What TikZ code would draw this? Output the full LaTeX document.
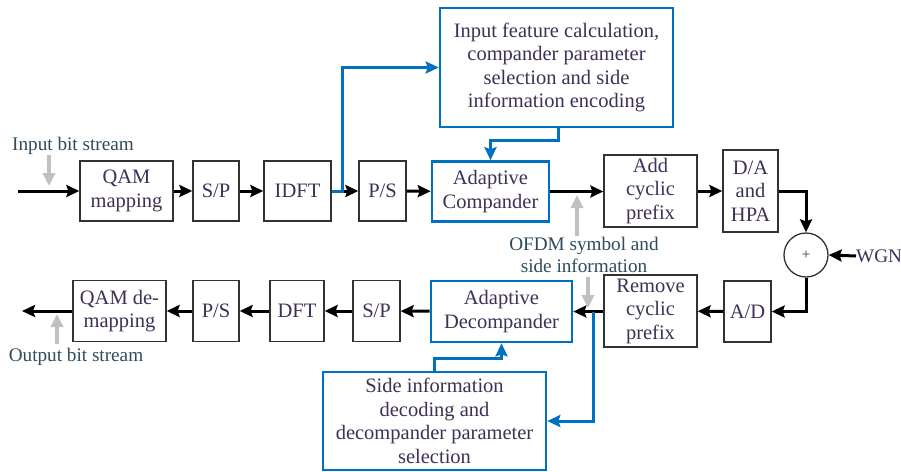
\documentclass[tikz,border=0pt]{standalone}
\usepackage{fontspec}
\setmainfont{Liberation Serif}
\usetikzlibrary{arrows.meta}
\definecolor{bblue}{RGB}{0,112,192}
\definecolor{boxtxt}{RGB}{62,48,86}
\definecolor{lbltxt}{RGB}{46,76,92}
\definecolor{gpoint}{RGB}{192,192,192}
\definecolor{bord}{RGB}{50,50,50}
\tikzset{
  blk/.style={draw=bord, line width=1.3pt, text=boxtxt, align=center, inner sep=0pt,
    font=\fontsize{20.5}{23.5}\selectfont},
  bblk/.style={blk, draw=bblue, line width=2.6pt},
  sig/.style={line width=3pt, -{Stealth[length=13pt,width=12pt,inset=2pt]}},
  bsig/.style={line width=3pt, draw=bblue, -{Stealth[length=13pt,width=12pt,inset=2pt]}},
  gptr/.style={line width=3.4pt, draw=gpoint, -{Triangle[length=13pt,width=12pt]}},
  lbl/.style={text=lbltxt, inner sep=0pt, align=center, font=\fontsize{19.2}{21.5}\selectfont}
}
\begin{document}
\begin{tikzpicture}[x=1pt,y=-1pt]
\useasboundingbox[fill=white] (0,0) rectangle (901,471);
% top row
\node[blk, minimum width=93pt, minimum height=60pt] (qam) at (126.5,191) {QAM\\mapping};
\node[blk, minimum width=46pt, minimum height=60pt] (sp1) at (216,191) {S/P};
\node[blk, minimum width=67pt, minimum height=60pt] (idft) at (297.5,191) {IDFT};
\node[blk, minimum width=47pt, minimum height=60pt] (ps1) at (382.5,191) {P/S};
\node[bblk, minimum width=117pt, minimum height=60pt] (comp) at (490.5,191.5) {Adaptive\\Compander};
\node[blk, minimum width=93pt, minimum height=72pt] (acp) at (650.5,191) {Add\\cyclic\\prefix};
\node[blk, minimum width=55pt, minimum height=82pt] (da) at (750.5,191) {D/A\\and\\HPA};
\node[draw=bord, line width=1.3pt, circle, minimum size=44pt, inner sep=0pt, text=boxtxt,
  font=\fontsize{15}{15}\selectfont] (circ) at (806,255) {+};
\node[lbl, text=boxtxt, anchor=west] (wgn) at (856,256) {WGN};
\node[bblk, minimum width=233pt, minimum height=119pt] (ifc) at (556.5,67.5)
  {Input feature calculation,\\compander parameter\\selection and side\\information encoding};
% bottom row
\node[blk, minimum width=93pt, minimum height=72pt] (rcp) at (650.5,311) {Remove\\cyclic\\prefix};
\node[blk, minimum width=47pt, minimum height=61pt] (ad) at (747.5,311.5) {A/D};
\node[bblk, minimum width=141pt, minimum height=61pt] (dec) at (501.5,311.5) {Adaptive\\Decompander};
\node[blk, minimum width=47pt, minimum height=61pt] (sp2) at (376.5,311) {S/P};
\node[blk, minimum width=54pt, minimum height=61pt] (dft) at (297,311) {DFT};
\node[blk, minimum width=46pt, minimum height=61pt] (ps2) at (216,311) {P/S};
\node[blk, minimum width=93pt, minimum height=61pt] (qdm) at (119.5,311) {QAM de-\\mapping};
\node[bblk, minimum width=223pt, minimum height=98pt] (sid) at (434.5,421)
  {Side information\\decoding and\\decompander parameter\\selection};
% labels
\node[lbl] (lin) at (73,146) {Input bit stream};
\node[lbl] (lout) at (76,357) {Output bit stream};
\node[lbl] (lofdm) at (584,255) {OFDM symbol and\\side information};
% coordinates
\coordinate (inS) at (18,191);
\coordinate (outE) at (22,311);
\coordinate (b1) at (342,191);
\coordinate (b2) at (593,311.5);
\coordinate (g1a) at (49,155); \coordinate (g1b) at (49,186);
\coordinate (g2a) at (577,236); \coordinate (g2b) at (577,195);
\coordinate (g3a) at (588,277); \coordinate (g3b) at (588,308);
\coordinate (g4a) at (57,344); \coordinate (g4b) at (57,314);
% black signal path
\draw[sig] (inS) -- (qam.west);
\draw[sig] (qam) -- (sp1);
\draw[sig] (sp1) -- (idft);
\draw[sig] (b1) -- (ps1.west);
\draw[sig] (ps1) -- (comp);
\draw[sig] (comp.east) -- (acp.west |- comp.east);
\draw[sig] (acp) -- (da);
\draw[sig] (da.east) -| (circ.north);
\draw[sig] (wgn.west) -- (circ.east);
\draw[sig] (circ.south) |- (ad.east);
\draw[sig] (ad) -- (rcp);
\draw[sig] (rcp.west |- dec.east) -- (dec.east);
\draw[sig] (dec) -- (sp2);
\draw[sig] (sp2) -- (dft);
\draw[sig] (dft) -- (ps2);
\draw[sig] (ps2) -- (qdm);
\draw[sig] (qdm.west) -- (outE);
% blue side paths
\draw[bsig] (idft.east) -- (b1) |- (ifc.west);
\draw[bsig] ([xshift=1.5pt]ifc.south) -- ++(0,12) -| (comp.north);
\draw[bsig] (b2) |- (sid.east);
\draw[bsig] (sid.north) -- ++(0,-12) -| (dec.south);
% gray pointers
\draw[gptr] (g1a) -- (g1b);
\draw[gptr] (g2a) -- (g2b);
\draw[gptr] (g3a) -- (g3b);
\draw[gptr] (g4a) -- (g4b);
\end{tikzpicture}
\end{document}
